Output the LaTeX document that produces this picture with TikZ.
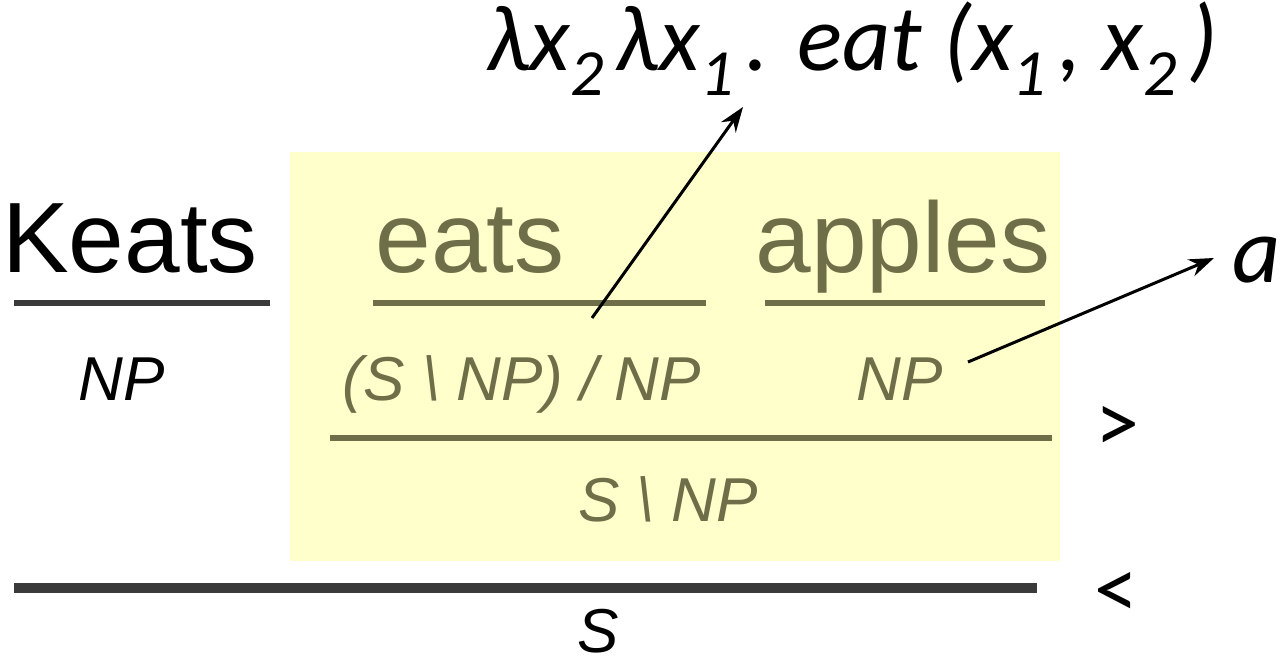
\documentclass[tikz,border=0pt]{standalone}
\usepackage{fontspec}
\setmainfont{Liberation Sans}
\newfontfamily\calib{Carlito}
\usetikzlibrary{arrows.meta}
\definecolor{ccgyellow}{HTML}{FFFFCC}
\definecolor{ccgolive}{HTML}{6E6E48}
\definecolor{ccgrule}{HTML}{3A3A3A}
\newcommand\ccgsub[1]{\raisebox{-25pt}{\fontsize{66}{70}\selectfont #1}\hspace{12pt}}

\begin{document}
\begin{tikzpicture}[
  x=1pt, y=-1pt,
  >={Stealth[length=25pt,width=18pt]},
  word/.style={font=\fontsize{100}{110}\selectfont, inner sep=0pt, anchor=base},
  cat/.style={font=\fontsize{62}{70}\selectfont\itshape, inner sep=0pt, anchor=base},
  rulebar/.style={line width=6pt},
  sym/.style={font=\calib\fontsize{88}{96}\selectfont, inner sep=0pt},
  sem/.style={font=\calib\itshape\fontsize{94}{100}\selectfont, inner sep=0pt},
  ptr/.style={->, line width=3pt},
]
\useasboundingbox (0,0) rectangle (1280,667);

% ===== highlighted verb phrase =====
\fill[ccgyellow] (290,152) rectangle (1060,561);

% ===== lexical entries =====
\node[word] (keats) at (130,272) {Keats};
\node[word,text=ccgolive] (eats) at (470,272) {eats};
\node[word,text=ccgolive] (apples) at (903,272) {apples};
\draw[rulebar,ccgrule] (14,303) -- (270,303);
\draw[rulebar,ccgolive] (373,303) -- (706,303);
\draw[rulebar,ccgolive] (765,303) -- (1045,303);
\node[cat] (npK) at (122,400) {NP};
\node[cat,text=ccgolive] (tv) at (522,400) {(S \textbackslash\ NP) / NP};
\node[cat,text=ccgolive] (npA) at (900,400) {NP};

% ===== forward application =====
\draw[rulebar,ccgolive] (330,438) -- (1052,438);
\node[sym] (fwd) at (1117,429) {>};
\node[cat,text=ccgolive] (vp) at (668,521) {S \textbackslash\ NP};

% ===== backward application =====
\draw[line width=10pt,ccgrule] (14,588) -- (1037,588);
\node[sym] (bwd) at (1116,595) {<};
\node[cat] (sent) at (598,652) {S};

% ===== semantics =====
\node[sem,anchor=base west] (lam) at (486,70)
  {λx\ccgsub{2}λx\ccgsub{1}. eat (x\ccgsub{1}, x\ccgsub{2})};
\node[sem,anchor=base west] (obj) at (1232,282) {a};
\coordinate (tvPt) at (592,318);
\coordinate (lamTip) at (743,107);
\coordinate (npPt) at (968,362);
\coordinate (objTip) at (1214,258);
\draw[ptr] (tvPt) -- (lamTip);
\draw[ptr] (npPt) -- (objTip);

\end{tikzpicture}
\end{document}
